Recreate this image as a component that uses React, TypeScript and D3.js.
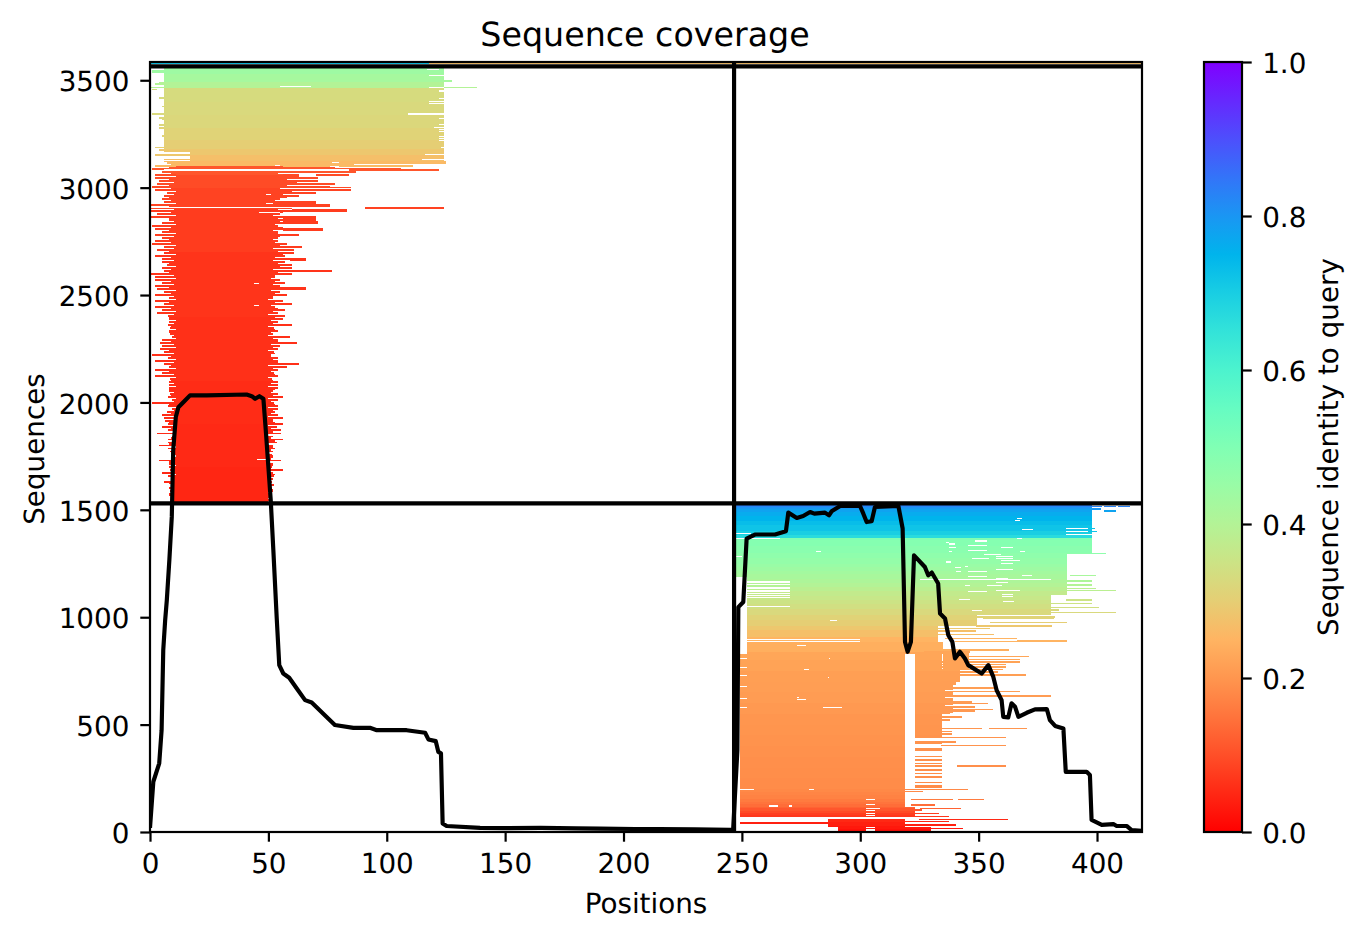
import React, { useEffect, useRef } from 'react';
import * as d3 from 'd3';

const xTicks = [0, 50, 100, 150, 200, 250, 300, 350, 400];
const yTicks = [0, 500, 1000, 1500, 2000, 2500, 3000, 3500];
const barTicks = [0, 0.2, 0.4, 0.6, 0.8, 1];

const identityBreaks = [15, 30, 45, 60, 70, 80, 90, 100, 110, 118, 130, 140, 155, 170, 185, 200, 250, 300, 350, 400, 450, 500, 550, 600, 650, 700, 750, 800, 840, 885, 910, 940, 960, 985, 1010, 1040, 1060, 1080, 1100, 1120, 1140, 1160, 1180, 1200, 1215, 1235, 1250, 1275, 1300, 1330, 1360, 1367, 1385, 1400, 1430, 1450, 1470, 1490, 1505, 1515, 1525, 1530, 1700, 1900, 2100, 2400, 2700, 2900, 3000, 3060, 3100, 3125, 3150, 3180, 3220, 3280, 3340, 3400, 3463, 3490, 3530];
const identities = [0.02, 0.03, 0.04, 0.05, 0.06, 0.07, 0.08, 0.095, 0.11, 0.125, 0.14, 0.15, 0.16, 0.17, 0.175, 0.18, 0.185, 0.188, 0.19, 0.193, 0.195, 0.198, 0.2, 0.205, 0.21, 0.213, 0.215, 0.22, 0.225, 0.24, 0.25, 0.27, 0.285, 0.3, 0.31, 0.325, 0.34, 0.35, 0.36, 0.37, 0.385, 0.4, 0.41, 0.42, 0.43, 0.44, 0.45, 0.46, 0.47, 0.48, 0.49, 0.5, 0.67, 0.7, 0.72, 0.735, 0.75, 0.765, 0.78, 0.8, 0.83, 0.86, 0.048, 0.052, 0.055, 0.06, 0.065, 0.075, 0.085, 0.095, 0.11, 0.26, 0.27, 0.285, 0.3, 0.31, 0.32, 0.325, 0.33, 0.4, 0.425, 0.44];

// red block, top row (seq 3120) downwards, one entry every 14 sequences
const redTopSeq = 3120;
const redRowStep = 14;
const redLeft = [7, 2.1, 0.8, 5.1, 2.1, 2.1, 3.8, 3, 0.8, 2.1, 7.2, 5.9, 5.1, 5.9, 0.4, 0.4, 0.4, 3, 0.4, 8, 5.1, 0.8, 2.1, 5.1, 2.1, 5.1, 2.1, 0.8, 5.9, 3, 5.9, 2.1, 5.1, 5.1, 7.2, 5.1, 5.9, 0.4, 2.1, 2.1, 5.1, 2.1, 3, 5.9, 2.1, 8,
  2.1, 5.9, 2.1, 5.1, 3, 7.6, 8, 8, 7.6, 8.5, 8, 8.5, 9.3, 5.1, 4.2, 5.1, 4.2, 5.9, 0.8, 7.6, 2.1, 5.9, 8, 2.1, 5.1, 2.1, 8.5, 8, 8, 8, 8, 8.5, 7.6, 9.3, 0.8, 7.6, 9.3, 7.2, 5.1, 5.9, 6.3, 7.6, 5.1, 7.6, 3, 9.3, 7.6, 7.6, 3.8, 7.6, 8.5, 9.3, 9.3, 3.8, 8, 8, 8.5, 5.1, 7.6, 9.7, 5.9, 9.7, 8, 8.5, 8, 9.3, 9.3, 9.7];
const redRight = [125, 111, 106, 87, 84, 84, 71, 78, 76, 85, 70, 63, 55, 70, 76, 60, 83, 55, 70, 70, 71, 54, 73, 54, 63, 54, 54, 58, 64, 61, 61, 57, 66, 57, 60, 60, 77, 60, 53, 55, 57, 55, 66, 55, 58, 52,
  56.2, 60, 52.8, 57, 54.1, 57, 56.2, 54.1, 60, 52.4, 54.1, 52, 59.2, 54.1, 62, 55, 54.1, 52.4, 51, 54.1, 54.1, 63, 57.9, 54.1, 52.4, 54.1, 51.5, 54.1, 54.1, 54.1, 52, 54.1, 56.2, 54.1, 52.4, 54.1, 54.1, 52.8, 54.1, 56.2, 52, 56.2, 53.7, 55.4, 55.4, 52, 56.2, 53.7, 52, 52.8, 52, 51.5, 52, 55.4, 52, 51.5, 56.2, 52, 52.4, 52, 51.5, 52.4, 50.7, 52, 51.5, 50.7, 51, 50.7];
// the narrower rows lying between the ones above
const redInnerLeft = [9, 8, 10, 9, 11, 8, 10, 8, 9, 11, 10, 8, 9, 11, 8, 10, 9, 11, 8, 10, 11, 9, 8, 11, 10, 8, 9, 11, 10, 8, 11, 9, 10, 8, 11, 9, 8, 10, 11, 9,
  10, 8, 11, 9, 10, 11, 8, 10, 9, 11, 10, 8, 11, 10, 9, 11, 8, 10, 11, 9, 10, 11, 8, 10, 9, 11, 10, 9, 11, 8, 10, 11, 9, 10, 11, 8, 10, 9, 11, 10,
  8, 11, 10, 9, 11, 10, 8, 11, 9, 10, 11, 9, 10, 8, 11, 10, 9, 11, 10, 8, 11, 9, 10, 11, 10, 9, 8, 10, 9, 10, 8, 9, 10, 9];
const redInnerRight = [86, 78, 72, 60, 66, 58, 62, 58, 55, 60, 56, 58, 53, 55, 58, 54, 56, 52, 54, 55, 53, 56, 52, 54, 55, 52, 53, 55, 52, 54, 56, 53, 52, 54, 55, 52, 54, 53, 51, 53,
  52, 54, 51, 53, 52, 50, 53, 51, 54, 52, 50, 53, 51, 52, 50, 53, 51, 50, 52, 54, 51, 52, 50, 53, 51, 52, 54, 50, 52, 51, 53, 50, 52, 51, 50, 53, 51, 52, 50, 51,
  53, 50, 52, 51, 50, 52, 53, 50, 51, 52, 50, 51, 53, 50, 52, 51, 50, 52, 51, 50, 52, 51, 50, 53, 51, 50, 51, 50, 52, 50, 51, 50, 50, 51];

// [seq low, seq high, first position, last position]
const solidBands = [
  [3165, 3562, 5.9, 124], [3125, 3165, 17, 124], [3118, 3125, 6, 125],
  [1530, 2700, 11, 49.5], [2700, 3060, 11, 51.5], [3100, 3118, 11, 75], [3060, 3100, 11, 56],
  [1350, 1530, 247, 398], [1297, 1350, 247, 398], [1185, 1297, 247, 387.3], [1105, 1185, 252, 387.3],
  [1010, 1105, 252, 380.6], [960, 1010, 252, 349.3], [885, 960, 252, 333], [830, 885, 252, 335],
  [437, 830, 249, 319], [437, 830, 323, 334.6], [752, 835, 335, 346], [700, 752, 334.6, 342], [552, 700, 334.6, 339],
  [118, 437, 249, 319], [72, 118, 249, 323], [25, 60, 286.5, 319], [0, 25, 290.7, 330],
  [409, 423, 323, 334.5], [377, 391, 323, 334.5], [347, 354, 323, 334.5], [332, 338, 323, 334.5],
  [315, 323, 323, 334.5], [304, 310, 323, 334.5], [284, 292, 323, 334.5], [268, 273, 323, 334.5],
  [251, 259, 323, 334.5], [226, 233, 323, 334.5], [206, 217, 323, 334.5],
];

// [seq, first position, last position], single thin rows outside the solid blocks
const thinRows = [
  [3544, 0.8, 5.9], [3536, 0.8, 5.9], [3496, 124, 127.6], [3487, 3.8, 5.9], [3482, 2.1, 5.9], [3467, 0.4, 5.9], [3467, 124, 138], [3456, 0.8, 3],
  [3417, 3.8, 5.9], [3377, 5.1, 5.9], [3343, 0.8, 5.9], [3324, 3.8, 5.9], [3320, 5.1, 5.9], [3292, 3.8, 5.9], [3278, 3.8, 5.9], [3240, 5.1, 5.9],
  [3187, 2.1, 5.9], [3175, 3.8, 5.9], [3153, 2.1, 17], [3130, 5.9, 17],
  [3082, 84, 122], [2906, 91, 124], [3000, 55, 85], [2929, 52, 70], [2915, 52, 76], [2896, 60, 83], [2854, 56, 70], [2841, 56, 71], [2803, 56, 73], [2662, 59, 66], [2613, 55, 77], [2534, 52, 66],
  [1516, 398, 402], [1516, 403, 408], [1516, 409, 414], [1505, 398, 401.5], [1494, 403, 408], [1412, 396, 399], [1400, 396, 400], [1296, 387, 403.6],
  [1195, 388.6, 399.5], [1168, 387, 398], [1149, 387, 398], [1133, 387, 399.5], [1124, 387, 408], [1079, 387, 398], [1064, 380, 398], [1045, 380, 401], [1033, 380, 384], [1022, 380, 408],
  [1002, 349, 382.3], [994, 352, 382], [975, 355, 387.3], [958, 349, 381], [947, 331, 355], [935, 331, 349], [919, 331, 356.6], [901, 336, 366.4], [892, 366, 387.3], [886, 340, 387.3],
  [847, 335, 362.8], [839, 327, 346.4], [816, 335, 371.3], [803, 335, 367.5], [792, 334, 367.5], [781, 334, 361.6], [769, 334, 361.6], [757, 334, 360.5], [744, 334, 358.3], [730, 334, 370], [715, 334, 340.4], [699, 334, 340.4],
  [688, 334, 340.4], [671, 334, 358.3], [653, 334, 367.5], [633, 334, 380.6], [617, 334, 338.6], [606, 334, 347], [598, 334, 354], [583, 334, 348.5], [571, 334, 356.2], [564, 334, 348.5], [552, 334, 338], [536, 334, 343], [521, 334, 338],
  [482, 334, 351.4], [482, 354.3, 370.4], [467, 334, 338.6], [456, 334, 338.6], [440, 334, 361.6], [420, 334, 340.4], [402, 334, 361.6], [307, 341, 361.6], [199, 319, 345.6], [188, 319, 326.5],
  [152, 321.5, 339.2], [152, 341.1, 352.3], [126, 321.5, 331.6], [110, 325.3, 342.7], [102, 323, 325.9], [87, 323, 333.2], [72, 323, 337.5], [59, 324.6, 362.6], [48, 319, 337.5], [41, 249, 286.5], [33, 319, 340.3], [17, 330, 343.4],
];

// [seq, first position, last position], white rows cut out of the blocks
const gapRows = [
  [3550, 117, 122], [3520, 118, 124], [3470, 55, 68], [3468, 118, 124], [3450, 122, 124], [3417, 122, 124], [3400, 118, 124], [3392, 118, 124], [3343, 109, 124], [3324, 122, 124], [3292, 122, 124],
  [3278, 120, 124], [3270, 122, 124], [3262, 122, 124], [3236, 122, 124], [3228, 122, 124], [3220, 122, 124], [3185, 123, 124], [3153, 116, 124], [3130, 115, 124],
  [3082, 5.9, 84], [2906, 0.4, 91], [3115, 77, 80], [3103, 53, 55], [3098, 76, 80], [3068, 54, 62], [3059, 63, 70], [3045, 71, 84], [3000, 55, 59], [2966, 49, 51], [2927, 49, 52], [2885, 46, 55], [2552, 44, 46], [2451, 44, 46], [1736, 45.4, 49], [3053, 63, 68],
  [1459, 366.1, 368.2], [1450, 365.4, 367.5], [1414, 387, 398], [1409, 368.2, 373.1], [1400, 387, 396], [1389, 247, 254], [1385, 387, 398], [1366, 247, 266], [1366, 366.2, 368.2], [1355, 348.5, 353.4], [1350, 336.3, 337.5], [1341, 337.5, 340.1], [1335, 345.7, 353.4],
  [1324, 337.5, 340.5], [1324, 359.5, 364.5], [1312, 345.7, 353.4], [1307, 281.3, 283.5], [1304, 367.5, 369.6], [1304, 337.5, 338.6], [1293, 352.4, 359.5], [1284, 357.4, 364.5], [1284, 247, 250], [1273, 347.4, 354.4], [1273, 357.4, 364.5], [1262, 359.5, 367.5], [1257, 336.3, 338.4], [1250, 359.5, 364.5],
  [1237, 344.3, 345.4], [1233, 340.1, 342.6], [1223, 357.4, 364.5], [1212, 345.5, 353.4], [1212, 340.3, 342.6], [1195, 368.2, 372.4], [1188, 345.5, 353.4], [1180, 357.4, 362.6], [1177, 325.3, 380.6], [1168, 252, 270.3], [1161, 252, 270.3], [1161, 357.4, 362.6], [1152, 252, 270.3], [1149, 353.4, 360], [1149, 344.3, 346.4], [1136, 252, 270.3], [1126, 252, 270.3], [1126, 357.4, 367.5], [1121, 345.7, 353.4], [1118, 252, 270.3],
  [1110, 252, 270.3], [1106, 359.8, 364.5], [1099, 252, 270.3], [1095, 359.8, 364.5], [1093, 252, 270.3], [1084, 341.5, 346.4], [1074, 360.5, 365.1], [1051, 252, 270.3], [1033, 347.1, 351.3], [1006, 362.6, 368.2], [983, 287.3, 290.1], [896, 252, 300], [888, 252, 300], [870, 273.3, 277.1],
  [808, 249, 252], [808, 286.6, 287.3], [767, 249, 252], [758, 276.3, 278.4], [730, 249, 252], [719, 286.3, 287], [679, 249, 252], [626, 273.3, 274.2], [623, 249, 252], [617, 273.3, 277.1], [581, 249, 252], [580, 284.4, 292.3], [199, 249.2, 255.2], [199, 278.4, 280.5],
  [790, 340, 346], [770, 341, 346], [735, 337, 342], [660, 336, 339], [625, 336, 339], [590, 336, 339],
  [152, 302.4, 306.2], [126, 302.4, 306.2], [121, 261.5, 265.3], [121, 269.7, 271.1], [110, 302.4, 308.4], [99, 302.4, 306.2], [85, 302.4, 306.2], [76, 302.4, 306.2], [12, 302.4, 306.2], [20, 302.4, 306.2], [5, 302.4, 306.2],
];

// the query row squeezed above the top black line
const queryRows = [[0, 118, 0.72], [118, 419, 0.27]];
const querySeq = 3578;

const blackHorizontal = [1530, 3565];
const blackVertical = [246.7];

const coveragePos = [0, 1.4, 3.9, 4.9, 5.6, 6.4, 7.1, 8.2, 9.2, 9.8, 10.9, 12, 14.8, 16.9, 23.9, 40.8, 43, 44.4, 46.2, 47.9, 49, 51, 52.1, 53.5, 54.6, 56.3, 58.8, 62, 65.5, 68.3, 74.6, 78.1, 85.9, 92.9, 95.8, 108.4, 116.2, 117.6, 120.7, 121.8, 122.9, 123.6, 125.3, 139.4, 150, 165, 180, 190, 205, 215, 230, 245, 246.3, 248.1, 248.5, 250.6, 252, 255.5, 264, 268.6, 269.6, 273.2, 275.9, 278.8, 280.6, 285.1, 286.8, 287.9, 291.5, 299.9, 301.3, 302.7, 304.8, 306.2, 316.1, 317.9, 318.9, 320, 321.4, 322.7, 327.3, 328.7, 330.2, 332.9, 333.7, 335.8, 337.2, 338.9, 340, 342.1, 344.2, 345.6, 351.3, 354.1, 356.2, 357.6, 359.7, 360.4, 362.5, 363.9, 365.4, 366.8, 370.3, 373.8, 378.8, 380.1, 382.3, 385.8, 386.8, 395.6, 397, 397.7, 402, 406.9, 408.3, 412.5, 414.6, 418.9];
const coverageSeq = [19, 234, 320, 474, 847, 985, 1079, 1270, 1467, 1777, 1932, 1978, 2009, 2033, 2033, 2037, 2029, 2017, 2029, 2017, 1856, 1544, 1312, 1001, 777, 738, 718, 668, 614, 603, 536, 498, 485, 485, 474, 474, 462, 431, 423, 373, 366, 40, 28, 19, 18, 19, 17, 16, 14, 13, 12, 10, 10, 381, 1047, 1071, 1366, 1385, 1385, 1400, 1487, 1462, 1471, 1490, 1482, 1487, 1474, 1493, 1518, 1518, 1482, 1443, 1447, 1513, 1518, 1413, 885, 839, 885, 1288, 1234, 1195, 1208, 1157, 1017, 994, 916, 885, 808, 839, 808, 777, 738, 777, 722, 660, 614, 536, 533, 599, 583, 536, 555, 571, 572, 521, 494, 482, 280, 280, 265, 56, 33, 37, 28, 28, 9, 6];

// matplotlib's rainbow_r
const rainbowR = (v: number) => {
  const t = 1 - v;
  const r = Math.min(1, Math.abs(2 * t - 0.5));
  const g = Math.sin(Math.PI * t);
  const b = Math.cos((Math.PI * t) / 2);
  return d3.rgb(r * 255, g * 255, b * 255).formatHex();
};

const width = 1364;
const height = 939;
const left = 150;
const right = 1142;
const top = 62;
const bottom = 832;
const barLeft = 1204;
const barRight = 1242;
const font = "'DejaVu Sans', sans-serif";
const tickFont = 27.8;
const spine = 2.2;

const App: React.FC = () => {
  const svgRef = useRef<SVGSVGElement | null>(null);

  useEffect(() => {
    if (!svgRef.current) return;
    const svg = d3.select(svgRef.current);
    svg.selectAll('*').remove();

    const x = d3.scaleLinear().domain([0, 419]).range([left, right]);
    const y = d3.scaleLinear().domain([0, 3585]).range([bottom, top]);
    const barY = d3.scaleLinear().domain([0, 1]).range([bottom, top]);
    const identity = d3.scaleThreshold<number, number>().domain(identityBreaks).range(identities);
    const color = d3.scaleSequential(rainbowR).domain([0, 1]);

    const defs = svg.append('defs');
    defs.append('clipPath').attr('id', 'plot-clip').append('rect')
      .attr('x', left).attr('y', top).attr('width', right - left).attr('height', bottom - top);
    const gradient = defs.append('linearGradient').attr('id', 'bar-gradient')
      .attr('x1', 0).attr('x2', 0).attr('y1', 1).attr('y2', 0);
    gradient.selectAll('stop').data(d3.range(0, 1.001, 0.05)).join('stop')
      .attr('offset', d => d).attr('stop-color', d => color(d));

    const plot = svg.append('g').attr('clip-path', 'url(#plot-clip)');
    const cells = plot.append('g').attr('shape-rendering', 'crispEdges');

    // solid blocks cut at each identity step so the gradient shows
    const bandSlices = solidBands.flatMap(([lo, hi, from, to]) => {
      const cuts = [lo, ...identityBreaks.filter(b => b > lo && b < hi), hi];
      return d3.pairs(cuts).map(([a, b]) => ({ lo: a, hi: b, from, to }));
    });
    const redSlices = redLeft.map((from, i) => {
      const hi = redTopSeq - i * redRowStep;
      return { lo: hi - 9, hi, from, to: redRight[i] };
    });
    const redInnerSlices = redInnerLeft.map((from, i) => {
      const hi = redTopSeq - i * redRowStep - 9;
      return { lo: hi - 5, hi, from, to: redInnerRight[i] };
    });
    const drawn = [...redSlices, ...redInnerSlices, ...bandSlices];

    cells.append('g').selectAll('rect').data(drawn).join('rect')
      .attr('x', d => x(d.from))
      .attr('y', d => y(d.hi))
      .attr('width', d => x(d.to) - x(d.from))
      .attr('height', d => y(d.lo) - y(d.hi))
      .attr('fill', d => color(identity((d.lo + d.hi) / 2)));

    cells.append('g').selectAll('rect').data(gapRows).join('rect')
      .attr('x', d => x(d[1]))
      .attr('y', d => y(d[0] + 2.5))
      .attr('width', d => x(d[2]) - x(d[1]))
      .attr('height', y(0) - y(5))
      .attr('fill', '#fff');

    cells.append('g').selectAll('rect').data(thinRows).join('rect')
      .attr('x', d => x(d[1]))
      .attr('y', d => y(d[0] + 3.5))
      .attr('width', d => x(d[2]) - x(d[1]))
      .attr('height', y(0) - y(7))
      .attr('fill', d => color(identity(d[0])));

    cells.append('g').selectAll('rect').data(queryRows).join('rect')
      .attr('x', d => x(d[0]))
      .attr('y', y(querySeq + 3))
      .attr('width', d => x(d[1]) - x(d[0]))
      .attr('height', y(0) - y(6))
      .attr('fill', d => color(d[2]));

    // domain boundaries
    plot.append('g').selectAll('line').data(blackHorizontal).join('line')
      .attr('x1', left).attr('x2', right)
      .attr('y1', d => y(d)).attr('y2', d => y(d))
      .attr('stroke', '#000').attr('stroke-width', 4.17);
    plot.append('g').selectAll('line').data(blackVertical).join('line')
      .attr('x1', d => x(d)).attr('x2', d => x(d))
      .attr('y1', top).attr('y2', bottom)
      .attr('stroke', '#000').attr('stroke-width', 4.17);

    const line = d3.line<number>()
      .x(d => x(d))
      .y((_, i) => y(coverageSeq[i]));
    plot.append('path').datum(coveragePos)
      .attr('d', line)
      .attr('fill', 'none')
      .attr('stroke', '#000')
      .attr('stroke-width', 4.17)
      .attr('stroke-linejoin', 'round');

    svg.append('rect')
      .attr('x', left).attr('y', top)
      .attr('width', right - left).attr('height', bottom - top)
      .attr('fill', 'none').attr('stroke', '#000').attr('stroke-width', spine);

    const styleAxis = (g: d3.Selection<SVGGElement, unknown, null, undefined>) => {
      g.select('.domain').remove();
      g.selectAll('line').attr('stroke', '#000').attr('stroke-width', spine);
      g.selectAll('text').attr('fill', '#000').attr('font-family', font).attr('font-size', tickFont);
    };

    svg.append('g')
      .attr('transform', `translate(0,${bottom})`)
      .call(d3.axisBottom(x).tickValues(xTicks).tickSize(9.7).tickPadding(11.5).tickFormat(d3.format('d')) as any)
      .call(styleAxis as any);
    const yAxis = svg.append('g')
      .attr('transform', `translate(${left},0)`)
      .call(d3.axisLeft(y).tickValues(yTicks).tickSize(9.7).tickPadding(10.9).tickFormat(d3.format('d')) as any)
      .call(styleAxis as any);
    yAxis.selectAll('text').attr('dy', '0.385em');

    // colour bar
    svg.append('rect')
      .attr('x', barLeft).attr('y', top)
      .attr('width', barRight - barLeft).attr('height', bottom - top)
      .attr('fill', 'url(#bar-gradient)')
      .attr('stroke', '#000').attr('stroke-width', spine);
    const barAxis = svg.append('g')
      .attr('transform', `translate(${barRight},0)`)
      .call(d3.axisRight(barY).tickValues(barTicks).tickSize(9.7).tickPadding(10.5).tickFormat(d3.format('.1f')) as any)
      .call(styleAxis as any);
    barAxis.selectAll('text').attr('dy', '0.385em');

    const label = (text: string, cx: number, cy: number, size: number, rotate = false) => {
      svg.append('text')
        .attr('transform', `translate(${cx},${cy})${rotate ? ' rotate(-90)' : ''}`)
        .attr('text-anchor', 'middle')
        .attr('font-family', font)
        .attr('font-size', size)
        .attr('fill', '#000')
        .text(text);
    };
    label('Sequence coverage', 645, 46, 33.3);
    label('Positions', 646, 913, tickFont);
    label('Sequences', 44, 449, tickFont, true);
    label('Sequence identity to query', 1338, 447, tickFont, true);
  }, []);

  return (
    <svg
      ref={svgRef}
      width={width}
      height={height}
      textRendering="geometricPrecision"
      style={{ position: 'absolute', left: 0, top: 0, display: 'block', background: '#fff' }}
    />
  );
};

export default App;
